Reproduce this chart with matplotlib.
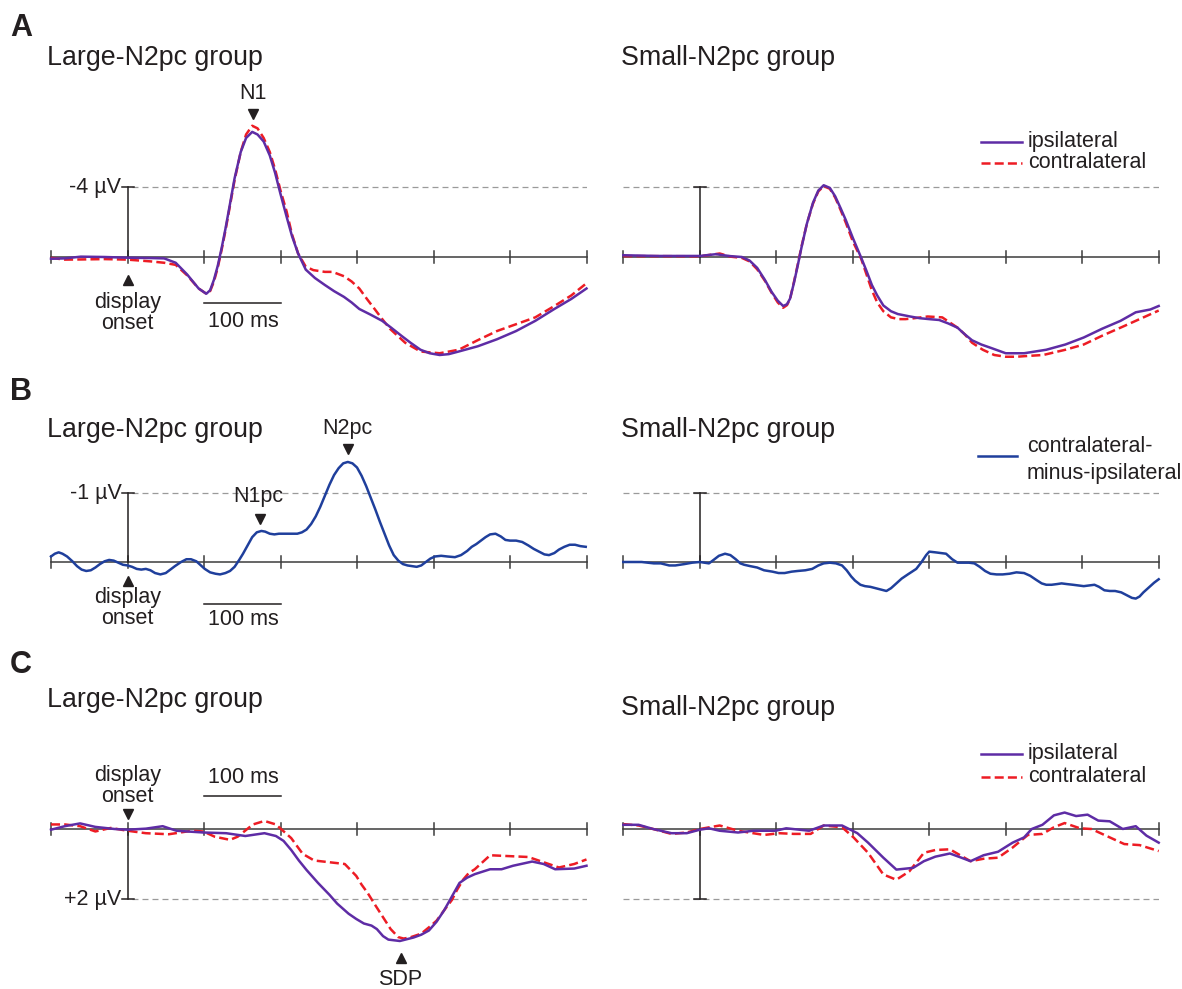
import matplotlib.pyplot as plt
from matplotlib.lines import Line2D

plt.rcParams['font.family'] = ['Liberation Sans', 'DejaVu Sans']
plt.rcParams['lines.scale_dashes'] = False

# ---- data (time in ms, amplitude in microvolts; negative is plotted up) ----
ticks_ms = [-100, 0, 100, 200, 300, 400, 500, 600]

# A: large group, ipsilateral / contralateral
a_large_ipsi_t = [-100, -82, -61, -30, 0, 30, 48, 63, 78, 93, 103, 108, 113, 118, 123, 128, 133,
                  140, 148, 155, 163, 170, 178, 186, 193, 200, 208, 215, 223, 233, 245, 258, 270,
                  283, 293, 303, 318, 333, 345, 358, 370, 383, 395, 408, 420, 433, 458, 483, 508,
                  533, 558, 580, 600]
a_large_ipsi_v = [0.1, 0.08, -0.02, 0.0, 0.04, 0.06, 0.08, 0.33, 1.0, 1.8, 2.1, 1.9, 1.3, 0.5, -0.5,
                  -1.6, -2.8, -4.5, -6.0, -6.8, -7.15, -7.0, -6.6, -5.8, -4.8, -3.6, -2.3, -1.2, -0.2,
                  0.72, 1.2, 1.6, 1.95, 2.28, 2.6, 2.97, 3.3, 3.65, 4.05, 4.5, 4.9, 5.3, 5.5, 5.6,
                  5.55, 5.4, 5.1, 4.7, 4.23, 3.65, 2.97, 2.4, 1.8]
a_large_contra_t = [-100, -82, -61, -30, 0, 30, 48, 63, 78, 93, 103, 108, 113, 118, 123, 128, 133,
                    140, 148, 155, 163, 170, 178, 186, 193, 200, 208, 215, 223, 233, 243, 258, 268,
                    283, 293, 303, 313, 323, 333, 343, 353, 363, 383, 408, 433, 458, 483, 508, 533,
                    558, 580, 600]
a_large_contra_v = [0.05, 0.15, 0.14, 0.12, 0.15, 0.25, 0.33, 0.45, 1.05, 1.8, 2.1, 1.95, 1.4, 0.6,
                    -0.4, -1.5, -2.7, -4.4, -6.0, -7.0, -7.5, -7.35, -6.8, -6.0, -5.0, -3.8, -2.6,
                    -1.3, -0.2, 0.55, 0.75, 0.85, 0.85, 1.1, 1.4, 1.8, 2.4, 2.97, 3.55, 4.1, 4.5, 4.9,
                    5.4, 5.5, 5.3, 4.75, 4.23, 3.84, 3.45, 2.8, 2.2, 1.5]

# A: small group
a_small_ipsi_t = [-100, -56, 0, 21, 40, 55, 65, 75, 85, 94, 102, 109, 114, 118, 123, 128, 133, 140,
                  148, 155, 162, 170, 177, 184, 191, 200, 211, 218, 225, 232, 240, 250, 259, 275,
                  288, 300, 313, 325, 337, 346, 356, 368, 381, 400, 424, 453, 478, 502, 526, 550,
                  570, 589, 600]
a_small_ipsi_v = [-0.1, -0.06, -0.06, -0.16, -0.05, 0.0, 0.2, 0.62, 1.3, 2.0, 2.5, 2.8, 2.7, 2.38,
                  1.5, 0.5, -0.55, -1.9, -3.1, -3.8, -4.1, -3.95, -3.47, -2.8, -2.1, -1.1, 0.04,
                  0.8, 1.6, 2.2, 2.77, 3.1, 3.26, 3.4, 3.5, 3.55, 3.6, 3.8, 4.04, 4.4, 4.76, 5.0,
                  5.2, 5.5, 5.5, 5.3, 5.0, 4.6, 4.1, 3.65, 3.16, 3.0, 2.8]
a_small_contra_t = [-100, -56, 0, 26, 40, 55, 65, 75, 85, 94, 102, 109, 114, 118, 123, 128, 133,
                    140, 148, 155, 162, 170, 177, 184, 191, 200, 211, 218, 225, 232, 240, 250, 260,
                    269, 280, 298, 317, 337, 346, 356, 370, 385, 400, 414, 430, 449, 478, 502, 526,
                    550, 575, 600]
a_small_contra_v = [-0.05, -0.05, -0.04, -0.2, -0.02, 0.05, 0.25, 0.7, 1.35, 2.05, 2.6, 2.9, 2.75,
                    2.4, 1.45, 0.45, -0.6, -1.9, -3.05, -3.75, -4.05, -3.9, -3.4, -2.7, -1.95, -0.9,
                    0.1, 1.0, 1.9, 2.6, 3.1, 3.45, 3.55, 3.55, 3.5, 3.4, 3.45, 4.04, 4.4, 4.9, 5.3,
                    5.6, 5.7, 5.7, 5.65, 5.6, 5.3, 5.0, 4.5, 4.04, 3.55, 3.06]

# B: contralateral-minus-ipsilateral
b_large_t = [-100, -95, -90, -85, -79, -72, -66, -60, -54, -48, -42, -36, -30, -24, -18, -12, -6,
             0, 6, 12, 18, 24, 30, 36, 43, 50, 56, 62, 70, 77, 83, 90, 96, 101, 108, 115, 121, 128,
             134, 140, 146, 151, 157, 163, 169, 175, 180, 186, 192, 198, 204, 210, 216, 222, 228,
             234, 240, 246, 252, 258, 264, 270, 276, 282, 288, 294, 300, 306, 312, 318, 324, 330,
             336, 342, 348, 354, 360, 366, 372, 378, 384, 390, 396, 402, 410, 418, 428, 436, 444,
             450, 456, 462, 468, 474, 481, 488, 494, 500, 508, 516, 524, 531, 538, 545, 551, 558,
             564, 571, 578, 585, 592, 599]
b_large_v = [-0.08, -0.12, -0.14, -0.12, -0.08, -0.01, 0.06, 0.11, 0.13, 0.12, 0.08, 0.03, -0.01,
             -0.03, -0.02, 0.01, 0.04, 0.05, 0.07, 0.1, 0.11, 0.1, 0.12, 0.16, 0.18, 0.16, 0.11,
             0.06, 0.0, -0.04, -0.04, -0.01, 0.05, 0.1, 0.15, 0.17, 0.18, 0.16, 0.13, 0.07, -0.03,
             -0.12, -0.24, -0.36, -0.43, -0.45, -0.44, -0.41, -0.4, -0.41, -0.41, -0.41, -0.41,
             -0.41, -0.43, -0.47, -0.55, -0.66, -0.8, -0.96, -1.12, -1.26, -1.36, -1.43, -1.45,
             -1.43, -1.37, -1.25, -1.1, -0.93, -0.76, -0.58, -0.41, -0.24, -0.1, -0.02, 0.03, 0.05,
             0.06, 0.07, 0.05, 0.0, -0.05, -0.08, -0.09, -0.08, -0.07, -0.1, -0.16, -0.22, -0.26,
             -0.31, -0.36, -0.4, -0.41, -0.37, -0.32, -0.31, -0.31, -0.29, -0.24, -0.19, -0.15,
             -0.11, -0.1, -0.13, -0.18, -0.22, -0.25, -0.25, -0.23, -0.22]
b_small_t = [-100, -76, -60, -51, -40, -32, -20, -10, 0, 6, 12, 18, 25, 33, 40, 47, 53, 58, 66, 75,
             84, 95, 103, 111, 120, 128, 138, 147, 155, 162, 170, 178, 186, 192, 198, 203, 210,
             216, 223, 230, 237, 244, 250, 257, 264, 272, 283, 290, 296, 300, 308, 315, 322, 330,
             337, 345, 352, 359, 366, 373, 380, 388, 396, 405, 414, 424, 432, 440, 447, 453, 460,
             467, 473, 480, 488, 495, 502, 509, 516, 522, 529, 536, 543, 551, 558, 565, 570, 575,
             580, 587, 594, 600]
b_small_v = [0.0, 0.0, 0.02, 0.02, 0.05, 0.05, 0.03, 0.01, 0.0, 0.01, 0.02, -0.03, -0.09, -0.12,
             -0.1, -0.04, 0.02, 0.04, 0.06, 0.08, 0.12, 0.14, 0.16, 0.16, 0.14, 0.13, 0.12, 0.1,
             0.05, 0.02, 0.01, 0.02, 0.05, 0.12, 0.21, 0.27, 0.33, 0.35, 0.36, 0.38, 0.4, 0.42,
             0.38, 0.31, 0.24, 0.18, 0.1, 0.0, -0.1, -0.15, -0.14, -0.13, -0.12, -0.04, 0.01, 0.01,
             0.01, 0.02, 0.07, 0.13, 0.17, 0.18, 0.18, 0.17, 0.15, 0.16, 0.2, 0.26, 0.31, 0.33,
             0.33, 0.32, 0.31, 0.32, 0.33, 0.34, 0.35, 0.34, 0.33, 0.36, 0.41, 0.42, 0.42, 0.44,
             0.48, 0.52, 0.53, 0.5, 0.44, 0.37, 0.3, 0.25]

# C: large group
c_large_ipsi_t = [-100, -82, -62, -42, -17, 0, 24, 46, 64, 99, 129, 154, 179, 194, 204, 214, 224,
                  234, 249, 264, 274, 289, 299, 309, 319, 326, 334, 341, 356, 374, 384, 394, 404,
                  414, 424, 434, 444, 454, 474, 489, 504, 529, 544, 559, 584, 600]
c_large_ipsi_v = [0.02, -0.08, -0.16, -0.06, 0.0, 0.02, -0.01, -0.08, 0.05, 0.1, 0.12, 0.2, 0.12,
                  0.2, 0.34, 0.6, 0.9, 1.17, 1.54, 1.88, 2.13, 2.42, 2.57, 2.7, 2.76, 2.86, 3.06,
                  3.16, 3.2, 3.1, 3.02, 2.9, 2.65, 2.32, 1.93, 1.54, 1.39, 1.29, 1.15, 1.15, 1.05,
                  0.93, 1.0, 1.15, 1.13, 1.05]
c_large_contra_t = [-100, -82, -62, -42, -22, 0, 24, 54, 84, 99, 114, 134, 144, 164, 179, 194,
                    214, 229, 244, 264, 284, 299, 306, 314, 324, 334, 344, 354, 361, 369, 384, 394,
                    404, 414, 424, 431, 439, 446, 454, 464, 474, 494, 524, 544, 564, 584, 600]
c_large_contra_v = [-0.13, -0.13, -0.08, 0.07, -0.03, 0.05, 0.12, 0.15, 0.05, 0.07, 0.22, 0.31,
                    0.22, -0.13, -0.23, -0.13, 0.26, 0.71, 0.9, 0.95, 1.0, 1.34, 1.59, 1.83, 2.18,
                    2.52, 2.86, 3.09, 3.13, 3.1, 2.99, 2.81, 2.62, 2.32, 2.03, 1.73, 1.44, 1.26,
                    1.15, 0.95, 0.75, 0.77, 0.8, 0.95, 1.1, 1.0, 0.87]

# C: small group
c_small_ipsi_t = [-100, -80, -61, -37, -17, 0, 12, 26, 50, 70, 99, 113, 143, 162, 186, 206, 220,
                  240, 257, 279, 293, 308, 327, 342, 354, 371, 390, 409, 424, 434, 448, 463, 477,
                  492, 507, 521, 536, 553, 570, 584, 600]
c_small_ipsi_v = [-0.12, -0.12, 0.0, 0.12, 0.12, 0.02, -0.02, 0.05, 0.1, 0.05, 0.05, -0.02, 0.05,
                  -0.1, -0.1, 0.12, 0.39, 0.82, 1.16, 1.11, 0.92, 0.79, 0.7, 0.82, 0.92, 0.75,
                  0.65, 0.39, 0.24, 0.0, -0.12, -0.39, -0.47, -0.37, -0.41, -0.24, -0.22, 0.0,
                  -0.08, 0.19, 0.39]
c_small_contra_t = [-100, -80, -61, -37, -17, 0, 26, 50, 84, 104, 123, 145, 162, 186, 201, 220,
                    240, 257, 274, 293, 308, 327, 342, 354, 371, 390, 409, 429, 448, 463, 477, 497,
                    512, 536, 555, 575, 600]
c_small_contra_v = [-0.14, -0.1, 0.0, 0.14, 0.1, 0.0, -0.1, 0.05, 0.17, 0.12, 0.14, 0.14, -0.1,
                    -0.05, 0.24, 0.68, 1.3, 1.45, 1.21, 0.68, 0.6, 0.58, 0.77, 0.92, 0.85, 0.82,
                    0.53, 0.17, 0.14, -0.05, -0.17, -0.02, 0.0, 0.24, 0.43, 0.46, 0.63]

# ---- styling ----
PURPLE = '#5e2ca5'
RED = '#ed1c24'
BLUE = '#1f3f9c'
INK = '#231f20'
AXC = '#3c3c3c'
GRAY = '#9a9a9a'
FS = 15.5

W, H = 1182, 989
fig = plt.figure(figsize=(W / 100, H / 100), dpi=100)


def panel(x0, x1, top, bottom, base, px_uv):
    ax = fig.add_axes([x0 / W, 1 - bottom / H, (x1 - x0) / W, (bottom - top) / H])
    ax.set_xlim(-100, 600)
    ax.set_ylim((bottom - base) / px_uv, -(base - top) / px_uv)
    ax.axis('off')
    ax.px_uv = px_uv
    ax.px_ms = (x1 - x0) / 700
    return ax


def frame(ax, scale, dash_from, label=None):
    th = 6 / ax.px_uv
    ax.plot([-100, 600], [0, 0], color=AXC, lw=1.1, clip_on=False, zorder=1)
    for t in ticks_ms:
        ax.plot([t, t], [-th, th], color=AXC, lw=1.1, clip_on=False, zorder=1)
    ax.plot([0, 0], [0, scale], color=INK, lw=1.1, zorder=1)
    cw = 6 / ax.px_ms
    ax.plot([-cw, cw], [scale, scale], color=INK, lw=1.1, zorder=1)
    ax.plot([dash_from, 600], [scale, scale], color=GRAY, lw=0.9, dashes=(4.3, 2.9), zorder=0)
    if label:
        ax.text(-8, scale, label, ha='right', va='center', fontsize=FS, color=INK)


def pair(ax, ti, vi, tc, vc):
    ax.plot(tc, vc, color=RED, lw=1.8, dashes=(6.5, 3.0), clip_on=False, zorder=3)
    ax.plot(ti, vi, color=PURPLE, lw=1.8, clip_on=False, zorder=4)


def marker(ax, t, v, up):
    ax.plot([t], [v], marker='^' if up else 'v', color=INK, ms=7, clip_on=False, ls='none')


def ftext(px, py, s, **kw):
    fig.text(px / W, 1 - py / H, s, color=INK, **kw)


LX0, LX1, RX0, RX1 = 51, 586.5, 623.3, 1158.7

# ---- row A ----
axA1 = panel(LX0, LX1, 70, 372, 257, 17.5)
axA2 = panel(RX0, RX1, 70, 372, 257, 17.5)
frame(axA1, -4, 6, '-4 µV')
frame(axA2, -4, -100)
pair(axA1, a_large_ipsi_t, a_large_ipsi_v, a_large_contra_t, a_large_contra_v)
pair(axA2, a_small_ipsi_t, a_small_ipsi_v, a_small_contra_t, a_small_contra_v)
marker(axA1, 164, -8.16, False)
axA1.text(164, -9.35, 'N1', ha='center', va='center', fontsize=FS, color=INK)
marker(axA1, 0, 1.31, True)
axA1.text(0, 3.18, 'display\nonset', ha='center', va='center', fontsize=FS, linespacing=1.0,
          color=INK)
axA1.plot([100, 200], [2.6, 2.6], color=INK, lw=1.1)
axA1.text(151, 3.66, '100 ms', ha='center', va='center', fontsize=FS, color=INK)

# ---- row B ----
axB1 = panel(LX0, LX1, 380, 650, 562, 69)
axB2 = panel(RX0, RX1, 380, 650, 562, 69)
frame(axB1, -1, 6, '-1 µV')
frame(axB2, -1, -100)
axB1.plot(b_large_t, b_large_v, color=BLUE, lw=1.8, clip_on=False, zorder=3)
axB2.plot(b_small_t, b_small_v, color=BLUE, lw=1.8, clip_on=False, zorder=3)
marker(axB1, 173, -0.63, False)
axB1.text(171, -0.95, 'N1pc', ha='center', va='center', fontsize=FS, color=INK)
marker(axB1, 288, -1.64, False)
axB1.text(288, -1.94, 'N2pc', ha='center', va='center', fontsize=FS, color=INK)
marker(axB1, 0, 0.27, True)
axB1.text(0, 0.66, 'display\nonset', ha='center', va='center', fontsize=FS, linespacing=1.0,
          color=INK)
axB1.plot([100, 200], [0.61, 0.61], color=INK, lw=1.1)
axB1.text(151, 0.84, '100 ms', ha='center', va='center', fontsize=FS, color=INK)

# ---- row C ----
axC1 = panel(LX0, LX1, 650, 989, 829, 35)
axC2 = panel(RX0, RX1, 650, 989, 829, 35)
frame(axC1, 2, 6, '+2 µV')
frame(axC2, 2, -100)
pair(axC1, c_large_ipsi_t, c_large_ipsi_v, c_large_contra_t, c_large_contra_v)
pair(axC2, c_small_ipsi_t, c_small_ipsi_v, c_small_contra_t, c_small_contra_v)
marker(axC1, 0, -0.42, False)
axC1.text(0, -1.22, 'display\nonset', ha='center', va='center', fontsize=FS, linespacing=1.0,
          color=INK)
axC1.plot([100, 200], [-0.94, -0.94], color=INK, lw=1.1)
axC1.text(151, -1.46, '100 ms', ha='center', va='center', fontsize=FS, color=INK)
marker(axC1, 357, 3.68, True)
axC1.text(357, 4.31, 'SDP', ha='center', va='center', fontsize=FS, color=INK)

# ---- panel letters and titles ----
for letter, y in [('A', 28), ('B', 392), ('C', 665)]:
    ftext(10, y, letter, fontsize=22, fontweight='bold', va='center', ha='left')
for y_l, y_r in [(58, 58), (430, 430), (700, 708)]:
    ftext(47, y_l, 'Large-N2pc group', fontsize=19.3, va='center', ha='left')
    ftext(621, y_r, 'Small-N2pc group', fontsize=19.3, va='center', ha='left')


# ---- legends ----
def leg_line(x0, x1, y, **kw):
    fig.add_artist(Line2D([x0 / W, x1 / W], [1 - y / H, 1 - y / H], lw=1.8, **kw))


for y1, y2 in [(142, 163), (754, 777)]:
    leg_line(981, 1022, y1, color=PURPLE)
    leg_line(981, 1022, y2, color=RED, dashes=(6.5, 3.0))
    ftext(1028, y1, 'ipsilateral', fontsize=FS, va='center', ha='left')
    ftext(1028, y2, 'contralateral', fontsize=FS, va='center', ha='left')
leg_line(978, 1017, 456, color=BLUE)
ftext(1027, 447, 'contralateral-', fontsize=FS, va='center', ha='left')
ftext(1027, 473, 'minus-ipsilateral', fontsize=FS, va='center', ha='left')

fig.savefig('out.png', dpi=100)
